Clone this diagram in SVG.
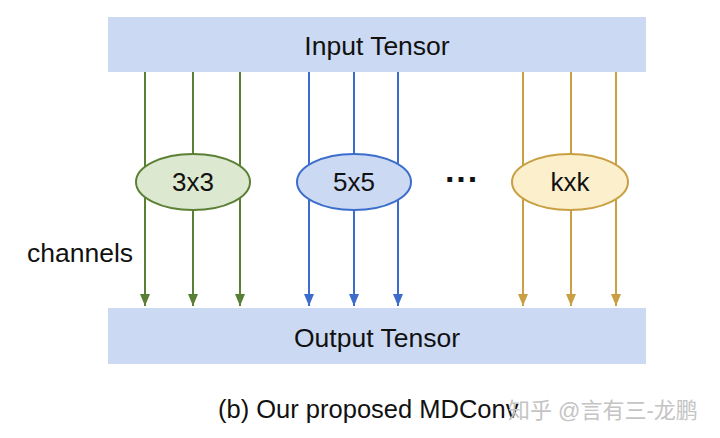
<svg xmlns="http://www.w3.org/2000/svg" width="720" height="438" viewBox="0 0 720 438">
<style>
text{font-family:"Liberation Sans",Arial,sans-serif;fill:#111}
.box{fill:#cbd9f3}
.g{stroke:#5b8035;stroke-width:2;fill:none}
.b{stroke:#3c6dcc;stroke-width:2;fill:none}
.y{stroke:#c8a043;stroke-width:2;fill:none}
</style>
<defs>
<marker id="ag" markerWidth="10" markerHeight="12" refX="5" refY="12" markerUnits="userSpaceOnUse" viewBox="0 0 10 12"><path d="M0,0 L10,0 L5,12 Z" fill="#5b8035"/></marker>
<marker id="ab" markerWidth="10" markerHeight="12" refX="5" refY="12" markerUnits="userSpaceOnUse" viewBox="0 0 10 12"><path d="M0,0 L10,0 L5,12 Z" fill="#3c6dcc"/></marker>
<marker id="ay" markerWidth="10" markerHeight="12" refX="5" refY="12" markerUnits="userSpaceOnUse" viewBox="0 0 10 12"><path d="M0,0 L10,0 L5,12 Z" fill="#c8a043"/></marker>
</defs>
<rect width="720" height="438" fill="#fff"/>
<g id="connectors">
<path class="g" d="M145,72 V306" marker-end="url(#ag)"/>
<path class="g" d="M193,72 V306" marker-end="url(#ag)"/>
<path class="g" d="M240,72 V306" marker-end="url(#ag)"/>
<path class="b" d="M309,72 V306" marker-end="url(#ab)"/>
<path class="b" d="M354,72 V306" marker-end="url(#ab)"/>
<path class="b" d="M398,72 V306" marker-end="url(#ab)"/>
<path class="y" d="M523,72 V306" marker-end="url(#ay)"/>
<path class="y" d="M571,72 V306" marker-end="url(#ay)"/>
<path class="y" d="M616,72 V306" marker-end="url(#ay)"/>
</g>
<g id="input">
<rect class="box" x="108" y="17" width="538" height="55"/>
<text x="377" y="55" font-size="26.5" text-anchor="middle">Input Tensor</text>
</g>
<g id="output">
<rect class="box" x="108" y="308" width="538" height="56"/>
<text x="377" y="347" font-size="26.5" text-anchor="middle">Output Tensor</text>
</g>
<g id="k3">
<ellipse cx="193" cy="182" rx="57" ry="28" fill="#dce8cf" stroke="#5b8035" stroke-width="2"/>
<text x="193" y="191" font-size="26" text-anchor="middle">3x3</text>
</g>
<g id="k5">
<ellipse cx="354" cy="182" rx="57" ry="28" fill="#cbd9f3" stroke="#3c6dcc" stroke-width="2"/>
<text x="354" y="191" font-size="26" text-anchor="middle">5x5</text>
</g>
<g id="kk">
<ellipse cx="570" cy="182" rx="58" ry="28" fill="#fcefcb" stroke="#c8a043" stroke-width="2"/>
<text x="570" y="191" font-size="26" text-anchor="middle">kxk</text>
</g>
<text x="462" y="191" font-size="34" text-anchor="middle" font-weight="bold">···</text>
<text x="27" y="262" font-size="26.5">channels</text>
<text x="218" y="418" font-size="25.5">(b) Our proposed MDConv</text>
<text x="508" y="418" font-size="22" style="fill:#c4c4c4;font-family:'Liberation Sans','Noto Sans CJK SC',sans-serif">知乎 @言有三-龙鹏</text>
</svg>
